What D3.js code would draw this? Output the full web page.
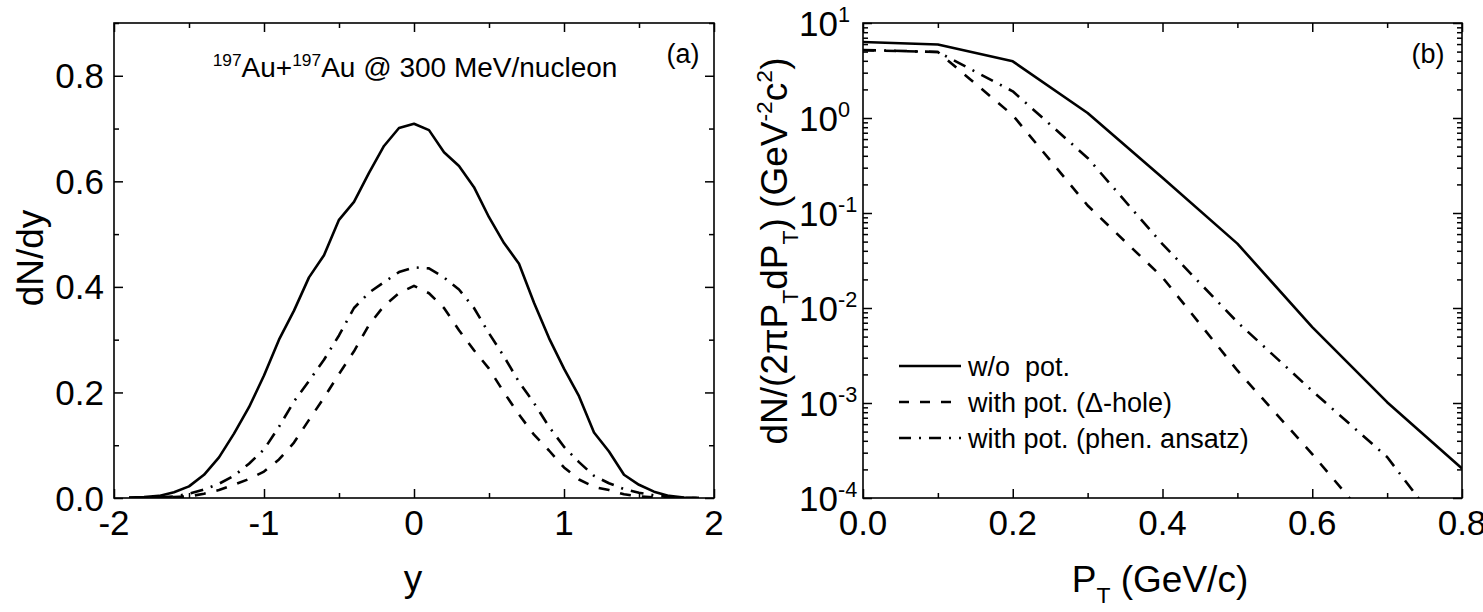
<!DOCTYPE html>
<html><head><meta charset="utf-8">
<script src="https://cdn.jsdelivr.net/npm/d3@7"></script>
<style>
body{margin:0;background:#fff}
svg text{font-family:"Liberation Sans",Arimo,Arial,Helvetica,sans-serif;fill:#000}
</style>
</head><body>
<svg id="c" width="1483" height="612"></svg>
<script>
// ---------------- DATA ----------------
// panel (a): rapidity distribution
const rapidity = [-1.9,-1.8,-1.7,-1.6,-1.5,-1.4,-1.3,-1.2,-1.1,-1.0,-0.9,-0.8,-0.7,-0.6,-0.5,-0.4,-0.3,-0.2,-0.1,0.0,
                  0.1,0.2,0.3,0.4,0.5,0.6,0.7,0.8,0.9,1.0,1.1,1.2,1.3,1.4,1.5,1.6,1.7,1.8,1.9];
const dndyNoPot = [0.001,0.002,0.004,0.011,0.022,0.044,0.077,0.122,0.172,0.232,0.300,0.355,0.418,0.460,0.527,0.561,0.616,0.667,0.701,0.709,
                   0.697,0.655,0.629,0.589,0.532,0.483,0.444,0.370,0.303,0.245,0.193,0.124,0.088,0.044,0.025,0.012,0.004,0.001,0.000];
const dndyDeltaHole = [0.000,0.000,0.001,0.002,0.003,0.008,0.015,0.025,0.036,0.050,0.073,0.105,0.148,0.190,0.235,0.278,0.328,0.364,0.388,0.402,
                       0.388,0.360,0.318,0.280,0.245,0.200,0.158,0.120,0.090,0.058,0.035,0.021,0.015,0.007,0.003,0.001,0.000,0.000,0.000];
const dndyPhen = [0.000,0.001,0.001,0.003,0.008,0.016,0.027,0.042,0.065,0.092,0.135,0.183,0.222,0.262,0.308,0.360,0.389,0.409,0.428,0.437,
                  0.435,0.418,0.395,0.360,0.312,0.268,0.220,0.180,0.135,0.097,0.068,0.042,0.028,0.017,0.010,0.005,0.002,0.000,0.000];

// panel (b): transverse momentum spectra
const ptValues = [0.0,0.1,0.2,0.3,0.4,0.5,0.6,0.7,0.8];
const specNoPot = [6.3,5.93,3.95,1.13,0.235,0.0476,0.0063,0.00102,0.000204];
const specDeltaHole = [5.16,4.95,1.07,0.12,0.021,0.0022,0.00029,0.000034,0.000004];
const specPhen = [5.2,4.95,1.91,0.38,0.047,0.0071,0.00134,0.00027,0.000025];

// tick labels
const xTicksA = [-2,-1,0,1,2];
const xMinorA = [-1.5,-0.5,0.5,1.5];
const yTicksA = [0.0,0.2,0.4,0.6,0.8];
const yMinorA = [0.1,0.3,0.5,0.7,0.9];
const xTicksB = [0.0,0.2,0.4,0.6,0.8];
const xMinorB = [0.1,0.3,0.5,0.7];
const yDecadesB = [-4,-3,-2,-1,0,1];

const legendLabels = ["w/o  pot.","with pot. (\u0394-hole)","with pot. (phen. ansatz)"];

// ---------------- LAYOUT ----------------
const svg = d3.select('#c');
const A = {x0:114,x1:714,y0:23,y1:498};
const B = {x0:863,x1:1462,y0:23,y1:498};

const xa = d3.scaleLinear().domain([-2,2]).range([A.x0,A.x1]);
const ya = d3.scaleLinear().domain([0,0.9]).range([A.y1,A.y0]);
const xb = d3.scaleLinear().domain([0,0.8]).range([B.x0,B.x1]);
const yb = d3.scaleLog().domain([1e-4,10]).range([B.y1,B.y0]);

const styles = {
  solid: {dash:null},
  dash: {dash:"11,11"},
  dashdot: {dash:"13,8,2,8"}
};
const LW = 2.6, TICKFS = 35;

function rich(sel, parts, fs){
  let shift = 0;
  parts.forEach(p=>{
    const ts = sel.append('tspan').text(p.t);
    let target = 0, size = fs;
    if(p.sub){ target = fs*0.30; size = fs*0.62; }
    if(p.sup){ target = -fs*0.40; size = fs*0.62; }
    ts.attr('dy', target - shift).attr('font-size', size);
    shift = target;
  });
}

function frameAndTicks(box, xs, ys, xMaj, xMin, yMaj, yMin){
  const g = svg.append('g');
  const mk = 9, mn = 5;
  g.append('g').attr('transform',`translate(0,${box.y1})`)
    .call(d3.axisBottom(xs).tickValues(xMaj).tickSize(-mk).tickSizeOuter(0).tickFormat(''));
  g.append('g').attr('transform',`translate(0,${box.y1})`)
    .call(d3.axisBottom(xs).tickValues(xMin).tickSize(-mn).tickSizeOuter(0).tickFormat(''));
  g.append('g').attr('transform',`translate(0,${box.y0})`)
    .call(d3.axisTop(xs).tickValues(xMaj).tickSize(-mk).tickSizeOuter(0).tickFormat(''));
  g.append('g').attr('transform',`translate(0,${box.y0})`)
    .call(d3.axisTop(xs).tickValues(xMin).tickSize(-mn).tickSizeOuter(0).tickFormat(''));
  g.append('g').attr('transform',`translate(${box.x0},0)`)
    .call(d3.axisLeft(ys).tickValues(yMaj).tickSize(-mk).tickSizeOuter(0).tickFormat(''));
  g.append('g').attr('transform',`translate(${box.x0},0)`)
    .call(d3.axisLeft(ys).tickValues(yMin).tickSize(-mn).tickSizeOuter(0).tickFormat(''));
  g.append('g').attr('transform',`translate(${box.x1},0)`)
    .call(d3.axisRight(ys).tickValues(yMaj).tickSize(-mk).tickSizeOuter(0).tickFormat(''));
  g.append('g').attr('transform',`translate(${box.x1},0)`)
    .call(d3.axisRight(ys).tickValues(yMin).tickSize(-mn).tickSizeOuter(0).tickFormat(''));
  g.selectAll('.domain').remove();
  g.selectAll('.tick line').attr('stroke','#000').attr('stroke-width',1.5);
  svg.append('rect').attr('x',box.x0).attr('y',box.y0)
    .attr('width',box.x1-box.x0).attr('height',box.y1-box.y0)
    .attr('fill','none').attr('stroke','#000').attr('stroke-width',1.6);
}

// ---------------- PANEL (a) ----------------
frameAndTicks(A, xa, ya, xTicksA, xMinorA, yTicksA, yMinorA);
svg.append('clipPath').attr('id','clipA').append('rect')
  .attr('x',A.x0).attr('y',A.y0).attr('width',A.x1-A.x0).attr('height',A.y1-A.y0);
const lineA = d3.line().x((d,i)=>xa(rapidity[i])).y(d=>ya(d));
[[dndyNoPot,'solid'],[dndyDeltaHole,'dash'],[dndyPhen,'dashdot']].forEach(([arr,st])=>{
  svg.append('path').attr('d',lineA(arr)).attr('clip-path','url(#clipA)')
    .attr('fill','none').attr('stroke','#000').attr('stroke-width',LW)
    .attr('stroke-linejoin','round').attr('stroke-dasharray',styles[st].dash);
});
svg.append('g').selectAll('text').data(xTicksA).join('text')
  .attr('x',d=>xa(d)).attr('y',535).attr('text-anchor','middle').attr('font-size',TICKFS)
  .text(d=>d3.format('d')(d).replace('\u2212','-'));
svg.append('g').selectAll('text').data(yTicksA).join('text')
  .attr('x',104).attr('y',d=>ya(d)+12.5).attr('text-anchor','end').attr('font-size',TICKFS)
  .text(d=>d.toFixed(1));
svg.append('text').attr('x',413).attr('y',591).attr('text-anchor','middle').attr('font-size',37).text('y');
svg.append('text').attr('transform','translate(43,258) rotate(-90)').attr('text-anchor','middle')
  .attr('font-size',37).text('dN/dy');
{
  const t = svg.append('text').attr('x',415).attr('y',77).attr('text-anchor','middle');
  rich(t,[{t:'197',sup:true},{t:'Au+'},{t:'197',sup:true},{t:'Au @ 300 MeV/nucleon'}],28);
}
svg.append('text').attr('x',683).attr('y',63).attr('text-anchor','middle').attr('font-size',27).text('(a)');

// ---------------- PANEL (b) ----------------
const minorLog = [];
for(let e=-4;e<1;e++) for(let m=2;m<10;m++) minorLog.push(m*Math.pow(10,e));
frameAndTicks(B, xb, yb, xTicksB, xMinorB, yDecadesB.map(e=>Math.pow(10,e)), minorLog);
svg.append('clipPath').attr('id','clipB').append('rect')
  .attr('x',B.x0).attr('y',B.y0).attr('width',B.x1-B.x0).attr('height',B.y1-B.y0);
const lineB = d3.line().x((d,i)=>xb(ptValues[i])).y(d=>yb(d));
[[specNoPot,'solid'],[specDeltaHole,'dash'],[specPhen,'dashdot']].forEach(([arr,st])=>{
  svg.append('path').attr('d',lineB(arr)).attr('clip-path','url(#clipB)')
    .attr('fill','none').attr('stroke','#000').attr('stroke-width',LW)
    .attr('stroke-linejoin','round').attr('stroke-dasharray',styles[st].dash);
});
svg.append('g').selectAll('text').data(xTicksB).join('text')
  .attr('x',d=>xb(d)).attr('y',535).attr('text-anchor','middle').attr('font-size',TICKFS)
  .text(d=>d.toFixed(1));
yDecadesB.forEach(e=>{
  const t = svg.append('text').attr('x',799).attr('y',yb(Math.pow(10,e))+12.5).attr('font-size',TICKFS);
  rich(t,[{t:'10'},{t:String(e),sup:true}],TICKFS);
});
{
  const t = svg.append('text').attr('x',1160).attr('y',592).attr('text-anchor','middle');
  rich(t,[{t:'P'},{t:'T',sub:true},{t:' (GeV/c)'}],37);
}
{
  const t = svg.append('text').attr('transform','translate(787,251) rotate(-90)').attr('text-anchor','middle');
  rich(t,[{t:'dN/(2\u03C0P'},{t:'T',sub:true},{t:'dP'},{t:'T',sub:true},{t:') (GeV'},{t:'-2',sup:true},{t:'c'},{t:'2',sup:true},{t:')'}],37);
}
svg.append('text').attr('x',1428).attr('y',63).attr('text-anchor','middle').attr('font-size',27).text('(b)');

// legend
const legY = [366,402,438];
['solid','dash','dashdot'].forEach((st,i)=>{
  svg.append('line').attr('x1',899).attr('x2',961).attr('y1',legY[i]).attr('y2',legY[i])
    .attr('stroke','#000').attr('stroke-width',LW).attr('stroke-dasharray',st==='dash'?'10,11':(st==='dashdot'?'12,8,2,8':null));
  svg.append('text').attr('x',968).attr('y',legY[i]+10).attr('font-size',27)
    .style('white-space','pre').text(legendLabels[i]);
});
</script>
</body></html>
